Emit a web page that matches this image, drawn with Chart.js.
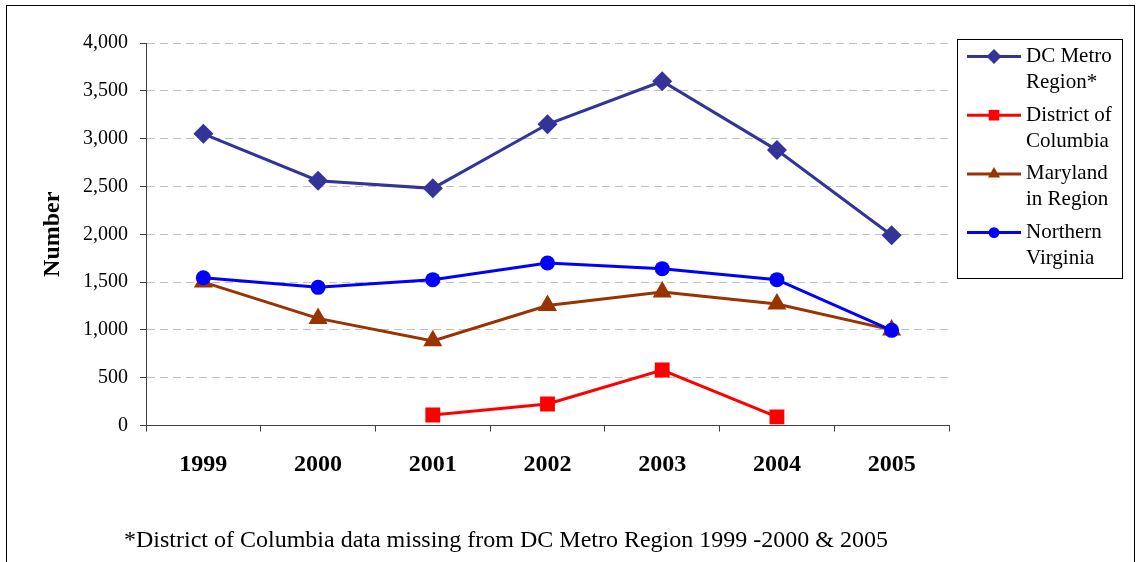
<!DOCTYPE html>
<html>
<head>
<meta charset="utf-8">
<script src="https://cdn.jsdelivr.net/npm/chart.js@4.4.1/dist/chart.umd.min.js"></script>
<style>
  html, body { margin: 0; padding: 0; background: #fff; }
  #wrap { width: 1137px; height: 562px; position: relative; }
</style>
</head>
<body>
<div id="wrap"><canvas id="chart"></canvas></div>
<script>
const years = ['1999', '2000', '2001', '2002', '2003', '2004', '2005'];
const dcMetro = [3050, 2560, 2480, 3150, 3600, 2880, 1990];
const district = [null, null, 110, 225, 580, 90, null];
const maryland = [1500, 1120, 885, 1255, 1395, 1270, 1000];
const northernVa = [1545, 1445, 1525, 1700, 1640, 1525, 995];

const seriesNames = ['DC Metro Region*', 'District of Columbia', 'Maryland in Region', 'Northern Virginia'];
const legendLines = [['DC Metro', 'Region*'], ['District of', 'Columbia'], ['Maryland', 'in Region'], ['Northern', 'Virginia']];
const footnote = '*District of Columbia data missing from DC Metro Region 1999 -2000 & 2005';

const SERIF = '"Liberation Serif", "Times New Roman", serif';
Chart.defaults.font.family = SERIF;
Chart.defaults.color = '#000';

// legend marker sizes (smaller than plot markers)
const legendRadius = { rectRot: 7.5, rect: 7.5, triangle: 7, circle: 5.4 };

function drawMarker(ctx, style, x, y, r, color) {
    ctx.fillStyle = color;
    if (Chart.helpers && Chart.helpers.drawPoint) {
        Chart.helpers.drawPoint(ctx, { pointStyle: style, radius: r, rotation: 0, borderWidth: 0 }, x, y);
        return;
    }
    ctx.beginPath();
    ctx.arc(x, y, r, 0, Math.PI * 2);
    ctx.fill();
}

// frame, legend box and footnote
const decorations = {
    id: 'decorations',
    beforeDraw(chart) {
        const ctx = chart.ctx;
        ctx.save();
        ctx.fillStyle = '#fff';
        ctx.fillRect(0, 0, chart.width, chart.height);
        ctx.strokeStyle = '#000';
        ctx.lineWidth = 1;
        ctx.strokeRect(6.5, 5.5, 1128, 570);
        ctx.restore();
    },
    afterDraw(chart) {
        const ctx = chart.ctx;
        ctx.save();
        ctx.strokeStyle = '#000';
        ctx.lineWidth = 1;
        ctx.strokeRect(957.5, 39.5, 165, 239);
        chart.data.datasets.forEach((ds, i) => {
            const y = 56.5 + i * 58.7;
            ctx.strokeStyle = ds.borderColor;
            ctx.lineWidth = 3;
            ctx.beginPath();
            ctx.moveTo(967, y);
            ctx.lineTo(1021, y);
            ctx.stroke();
            drawMarker(ctx, ds.pointStyle, 994, y, legendRadius[ds.pointStyle], ds.borderColor);
            ctx.fillStyle = '#000';
            ctx.font = '21px ' + SERIF;
            ctx.textBaseline = 'middle';
            ctx.textAlign = 'left';
            legendLines[i].forEach((t, j) => ctx.fillText(t, 1026, y + j * 26));
        });
        ctx.font = '24px ' + SERIF;
        ctx.textBaseline = 'alphabetic';
        ctx.fillText(footnote, 124, 547);
        ctx.restore();
    }
};

function makeSet(label, data, color, style, radius, order) {
    return {
        label: label,
        data: data,
        borderColor: color,
        backgroundColor: color,
        borderWidth: 3,
        pointStyle: style,
        pointRadius: radius,
        pointHoverRadius: radius,
        pointBorderWidth: 0,
        pointBackgroundColor: color,
        tension: 0,
        spanGaps: false,
        order: order
    };
}

const ctx = document.getElementById('chart').getContext('2d');
new Chart(ctx, {
    type: 'line',
    data: {
        labels: years,
        datasets: [
            makeSet(seriesNames[0], dcMetro, '#333399', 'rectRot', 10, 4),
            makeSet(seriesNames[1], district, '#ff0000', 'rect', 10.5, 3),
            makeSet(seriesNames[2], maryland, '#993300', 'triangle', 11, 2),
            makeSet(seriesNames[3], northernVa, '#0000ff', 'circle', 7.5, 1)
        ]
    },
    options: {
        responsive: true,
        maintainAspectRatio: false,
        animation: false,
        layout: { padding: { top: 43, right: 188, bottom: 0, left: 0 } },
        plugins: {
            legend: { display: false },
            tooltip: { enabled: false }
        },
        scales: {
            x: {
                offset: true,
                afterFit(scale) { scale.height = 136.5; },
                grid: {
                    offset: true,
                    drawOnChartArea: false,
                    tickLength: 6,
                    color: '#404040',
                    tickColor: '#404040'
                },
                border: { color: '#404040', width: 1 },
                ticks: {
                    padding: 19,
                    maxRotation: 0,
                    font: { size: 24, weight: 'bold' }
                }
            },
            y: {
                min: 0,
                max: 4000,
                afterFit(scale) { scale.width = 146; },
                grid: {
                    color: '#c0c0c0',
                    tickColor: '#404040',
                    tickLength: 6,
                    tickBorderDash: []
                },
                border: { color: '#404040', width: 1, dash: [8, 5] },
                ticks: {
                    stepSize: 500,
                    padding: 12,
                    font: { size: 20 },
                    callback: (v) => v.toLocaleString('en-US')
                },
                title: {
                    display: true,
                    text: 'Number',
                    padding: { top: 38, bottom: 0 },
                    font: { size: 24, weight: 'bold' }
                }
            }
        }
    },
    plugins: [decorations]
});
</script>
</body>
</html>
